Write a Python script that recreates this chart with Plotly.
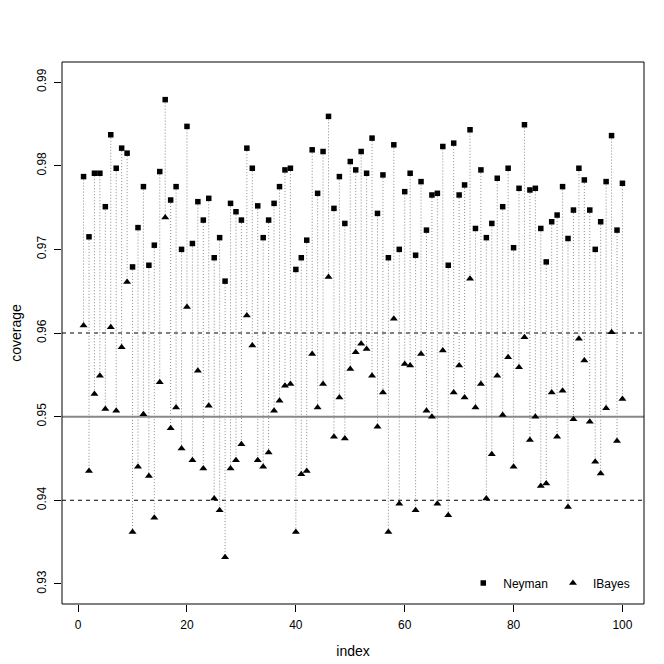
import plotly.graph_objects as go

# coverage per index
index = list(range(1, 101))

neyman = [
    0.9787, 0.9715, 0.9791, 0.9791, 0.9751, 0.9837, 0.9797, 0.9821, 0.9815, 0.9679,
    0.9726, 0.9775, 0.9681, 0.9705, 0.9793, 0.9879, 0.9759, 0.9775, 0.9700, 0.9847,
    0.9707, 0.9757, 0.9735, 0.9761, 0.9690, 0.9714, 0.9662, 0.9755, 0.9745, 0.9735,
    0.9821, 0.9797, 0.9752, 0.9714, 0.9735, 0.9755, 0.9775, 0.9795, 0.9797, 0.9676,
    0.9690, 0.9711, 0.9819, 0.9767, 0.9817, 0.9859, 0.9749, 0.9787, 0.9731, 0.9805,
    0.9795, 0.9817, 0.9791, 0.9833, 0.9743, 0.9789, 0.9690, 0.9825, 0.9700, 0.9769,
    0.9791, 0.9693, 0.9781, 0.9723, 0.9765, 0.9767, 0.9823, 0.9681, 0.9827, 0.9765,
    0.9777, 0.9843, 0.9725, 0.9795, 0.9714, 0.9731, 0.9785, 0.9751, 0.9797, 0.9702,
    0.9773, 0.9849, 0.9771, 0.9773, 0.9725, 0.9685, 0.9733, 0.9741, 0.9775, 0.9713,
    0.9747, 0.9797, 0.9783, 0.9747, 0.9700, 0.9733, 0.9781, 0.9836, 0.9723, 0.9779,
]

ibayes = [
    0.9609, 0.9435, 0.9527, 0.9549, 0.9509, 0.9607, 0.9507, 0.9583, 0.9661, 0.9362,
    0.9440, 0.9503, 0.9429, 0.9379, 0.9541, 0.9738, 0.9486, 0.9511, 0.9462, 0.9631,
    0.9448, 0.9555, 0.9438, 0.9513, 0.9402, 0.9388, 0.9332, 0.9438, 0.9448, 0.9467,
    0.9621, 0.9585, 0.9448, 0.9440, 0.9457, 0.9507, 0.9519, 0.9537, 0.9539, 0.9362,
    0.9431, 0.9435, 0.9575, 0.9511, 0.9539, 0.9667, 0.9476, 0.9523, 0.9474, 0.9557,
    0.9577, 0.9587, 0.9581, 0.9549, 0.9488, 0.9529, 0.9362, 0.9617, 0.9396, 0.9563,
    0.9561, 0.9388, 0.9575, 0.9507, 0.9500, 0.9396, 0.9579, 0.9382, 0.9529, 0.9561,
    0.9523, 0.9665, 0.9511, 0.9539, 0.9402, 0.9455, 0.9549, 0.9502, 0.9571, 0.9440,
    0.9559, 0.9595, 0.9472, 0.9500, 0.9417, 0.9420, 0.9529, 0.9476, 0.9531, 0.9392,
    0.9497, 0.9593, 0.9567, 0.9494, 0.9446, 0.9432, 0.9510, 0.9601, 0.9471, 0.9521,
]

x_ticks = [0, 20, 40, 60, 80, 100]
y_ticks = [0.93, 0.94, 0.95, 0.96, 0.97, 0.98, 0.99]

FONT = "Liberation Sans, Arial, sans-serif"

# dotted connectors between the two estimates at each index
seg_x, seg_y = [], []
for i, n, b in zip(index, neyman, ibayes):
    seg_x += [i, i, None]
    seg_y += [n, b, None]

fig = go.Figure()
fig.add_trace(go.Scatter(
    x=seg_x, y=seg_y, mode="lines",
    line=dict(color="#8a8a8a", width=1, dash="1px,2px"),
    showlegend=False, hoverinfo="skip"
))
fig.add_trace(go.Scatter(
    x=index, y=neyman, mode="markers", name="Neyman",
    marker=dict(symbol="square", size=5.5, color="black")
))
fig.add_trace(go.Scatter(
    x=index, y=ibayes, mode="markers", name="IBayes",
    marker=dict(symbol="triangle-up", size=7, color="black")
))

# reference lines
for h, dash, col, w in [(0.96, "4px,4px", "black", 1), (0.94, "4px,4px", "black", 1), (0.95, "solid", "#888888", 2)]:
    fig.add_shape(type="line", xref="paper", yref="y", x0=0, x1=1, y0=h, y1=h,
                  line=dict(color=col, width=w, dash=dash), layer="below")

# plot box
fig.add_shape(type="rect", xref="paper", yref="paper", x0=0, x1=1, y0=0, y1=1,
              line=dict(color="black", width=1))

fig.update_layout(
    width=664, height=664,
    margin=dict(l=54, r=28, t=54, b=68),
    paper_bgcolor="white", plot_bgcolor="white",
    font=dict(family=FONT, size=12, color="black"),
    showlegend=True,
    legend=dict(orientation="h", x=0.985, xanchor="right", y=0.012, yanchor="bottom",
                bgcolor="rgba(0,0,0,0)", font=dict(size=12), itemwidth=30),
    xaxis=dict(
        range=[-2.96, 103.96], tickvals=x_ticks, ticks="outside", ticklen=7,
        tickcolor="black", showgrid=False, zeroline=False, showline=False,
        title=dict(text="index", standoff=14), ticklabelstandoff=3, automargin=False
    ),
    yaxis=dict(
        range=[0.9276, 0.9924], tickvals=y_ticks, ticktext=[f"{v:.2f}" for v in y_ticks],
        ticks="outside", ticklen=7, tickcolor="black", showgrid=False, zeroline=False,
        showline=False, tickangle=-90, title=dict(text="coverage", standoff=10),
        ticklabelstandoff=3, automargin=False
    ),
)

fig.write_html("out.html")
